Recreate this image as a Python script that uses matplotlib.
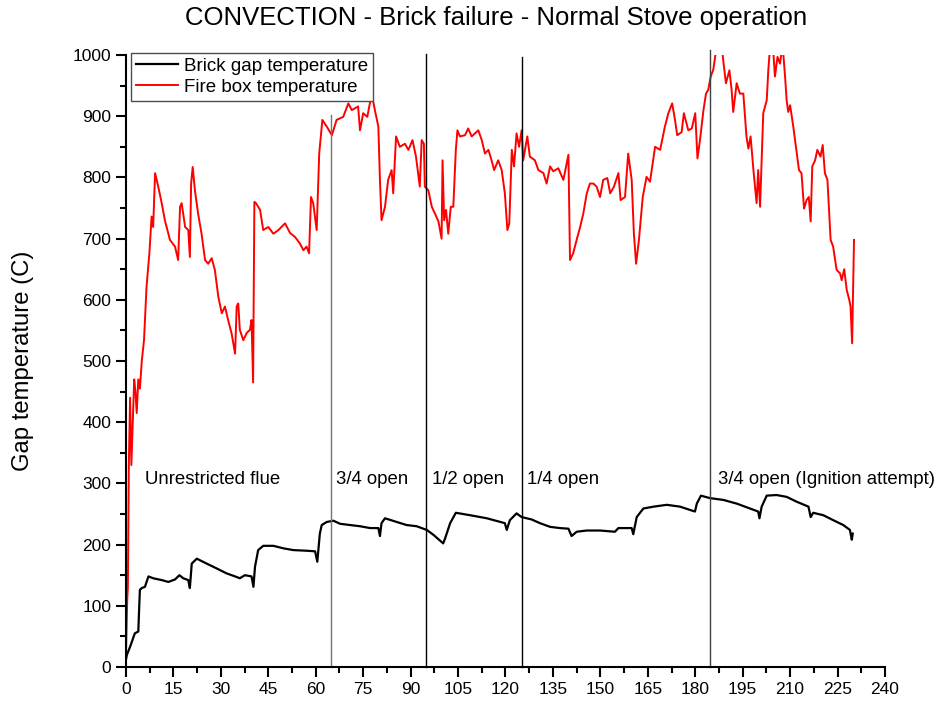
import matplotlib.pyplot as plt
from matplotlib.ticker import MultipleLocator

plt.rcParams['font.family'] = ['Liberation Sans', 'DejaVu Sans']

# fire box temperature (time in min, temp in C)
fire_t = [0.0, 0.4, 0.6, 0.9, 1.3, 1.7, 2.1, 2.6, 3.0, 3.4, 3.9, 4.4, 5.0, 5.7, 6.5, 7.4,
          8.1, 8.6, 9.2, 10.2, 11.3, 12.3, 13.9, 15.5, 16.5, 17.1, 17.6, 18.7, 19.7, 20.2,
          20.6, 21.1, 21.8, 22.8, 23.9, 25.0, 26.0, 27.1, 28.1, 29.2, 30.3, 31.3, 32.3,
          33.4, 34.5, 35.0, 35.5, 36.0, 37.1, 38.2, 39.2, 39.7, 40.2, 40.6, 41.1, 42.4,
          43.4, 45.0, 46.6, 48.2, 50.3, 51.9, 53.4, 55.0, 56.1, 57.1, 57.9, 58.5, 59.2,
          60.3, 61.1, 62.1, 63.5, 65.1, 66.6, 68.7, 70.3, 71.4, 73.4, 74.0, 75.0, 76.3,
          77.7, 78.7, 79.8, 80.3, 80.8, 81.9, 82.9, 84.0, 84.5, 85.4, 86.6, 88.2, 89.3,
          90.6, 91.7, 92.9, 93.5, 94.2, 94.5, 95.6, 96.7, 97.7, 98.8, 99.8, 100.1, 100.6,
          101.2, 101.9, 102.7, 103.5, 104.3, 104.8, 105.6, 107.2, 108.2, 109.3, 111.4,
          112.5, 113.5, 114.6, 115.6, 116.4, 117.7, 118.8, 119.8, 120.6, 121.2, 122.0,
          122.7, 123.5, 124.3, 125.1, 125.6, 126.9, 127.7, 129.3, 130.4, 132.0, 133.0,
          134.1, 135.1, 136.7, 138.3, 139.9, 140.4, 141.4, 142.5, 143.6, 144.6, 145.7,
          146.7, 147.8, 148.8, 149.9, 150.9, 152.2, 153.1, 154.3, 155.7, 156.4, 157.8,
          158.8, 159.9, 160.6, 161.3, 162.2, 163.4, 164.6, 165.7, 167.3, 168.9, 170.4,
          171.5, 172.7, 173.6, 174.3, 175.7, 176.4, 177.8, 178.9, 180.0, 180.7, 181.5,
          182.6, 183.4, 184.1, 184.9, 185.7, 186.6, 188.4, 188.9, 189.7, 190.8, 191.5,
          192.0, 193.1, 194.1, 195.2, 196.2, 196.8, 197.5, 198.4, 199.4, 199.9, 200.5,
          201.5, 202.6, 203.1, 203.6, 204.5, 205.2, 206.0, 206.8, 207.4, 207.8, 208.4,
          208.9, 209.4, 210.0, 211.0, 212.1, 212.8, 213.6, 214.4, 215.2, 215.9, 216.5,
          217.0, 217.9, 218.6, 219.6, 220.3, 221.0, 221.8, 222.8, 223.6, 224.7, 225.8,
          226.3, 227.1, 227.9, 228.7, 229.1, 229.6, 230.2]
fire_v = [20, 110, 130, 330, 440, 330, 390, 470, 450, 415, 470, 455, 500, 534, 621, 676,
          736, 719, 807, 785, 758, 730, 698, 687, 665, 752, 758, 719, 714, 670,
          790, 817, 779, 741, 708, 665, 659, 668, 649, 605, 578, 589, 567,
          545, 512, 589, 594, 551, 534, 546, 551, 567, 465, 760, 758, 747,
          714, 719, 708, 714, 725, 709, 703, 692, 681, 687, 676, 768, 758,
          714, 839, 894, 883, 869, 894, 899, 921, 910, 916, 877, 905, 899,
          937, 910, 883, 796, 730, 752, 796, 812, 774, 867, 850, 855, 845,
          861, 834, 785, 861, 855, 785, 779, 752, 741, 728, 700, 828, 730,
          747, 708, 752, 752, 845, 877, 867, 869, 880, 867, 877,
          861, 839, 845, 828, 812, 828, 812, 774, 714, 725, 845,
          818, 872, 850, 877, 828, 867, 834, 828, 812, 807, 790,
          818, 810, 815, 796, 837, 665, 676, 698, 719, 741, 774,
          790, 790, 785, 768, 796, 799, 774, 785, 807, 763, 768,
          839, 796, 708, 659, 698, 768, 801, 793, 850, 845, 883,
          905, 921, 894, 869, 874, 905, 877, 880, 905, 831, 861,
          910, 937, 943, 965, 976, 1008, 1012, 989, 954, 975, 943,
          907, 954, 937, 937, 867, 847, 867, 812, 758, 812, 752,
          905, 926, 975, 1010, 1020, 965, 997, 986, 1010, 1005, 965,
          926, 907, 918, 883, 839, 812, 807, 749, 763, 768, 728,
          818, 828, 845, 834, 853, 807, 796, 698, 687, 649, 643,
          632, 650, 616, 600, 589, 529, 698]

# brick gap temperature
gap_t = [0.0, 0.3, 1.3, 2.8, 3.9, 4.2, 4.4, 5.0, 6.0, 7.1, 8.6, 11.3, 13.4, 15.5, 16.9,
         18.1, 19.7, 20.2, 20.8, 22.4, 25.5, 28.7, 31.8, 34.5, 36.0, 37.6, 39.7, 40.3,
         40.8, 41.8, 43.4, 46.6, 49.7, 52.9, 57.1, 59.8, 60.5, 61.3, 61.9, 63.5, 65.6,
         67.7, 70.8, 74.0, 77.2, 79.8, 80.3, 80.8, 81.9, 85.6, 88.7, 91.9, 95.1, 97.2,
         100.3, 100.9, 102.5, 104.3, 108.8, 114.1, 119.8, 120.4, 121.4, 123.5, 125.1,
         126.7, 128.3, 130.9, 134.1, 137.2, 139.9, 140.9, 142.5, 145.7, 149.9, 154.6,
         155.7, 159.9, 160.4, 161.5, 163.6, 166.8, 171.0, 175.2, 179.9, 180.5, 181.8,
         184.6, 188.9, 193.1, 197.3, 199.9, 200.3, 201.0, 202.6, 205.7, 208.9, 212.1,
         215.8, 216.5, 217.3, 220.5, 223.6, 226.8, 228.9, 229.5, 229.8]
gap_v = [12, 20, 33, 55, 58, 100, 126, 129, 131, 148, 145, 142, 139, 143, 150,
         145, 142, 129, 169, 177, 169, 161, 153, 148, 145, 150, 148, 131,
         164, 191, 198, 198, 194, 191, 190, 189, 172, 218, 232, 237, 239,
         234, 232, 230, 227, 227, 214, 235, 243, 237, 232, 230, 224, 216,
         202, 210, 235, 252, 248, 243, 235, 224, 240, 251, 245,
         243, 241, 235, 229, 227, 226, 214, 221, 223, 223, 221,
         227, 227, 217, 245, 259, 262, 265, 262, 254, 267, 280,
         276, 273, 267, 259, 254, 243, 262, 280, 281, 278, 270,
         262, 245, 252, 248, 240, 232, 224, 208, 218]

# damper changes: position, top of marker line
marks_x = [64.8, 94.9, 125.2, 184.7]
marks_top = [902, 1002, 997, 1009]
marks_col = ['0.45', 'black', 'black', '0.25']

labels = ['Unrestricted flue', '3/4 open', '1/2 open', '1/4 open', '3/4 open (Ignition attempt)']
labels_x = [6.0, 66.4, 96.8, 126.8, 187.2]

fig = plt.figure(figsize=(9.38, 7.11), dpi=100)
ax = fig.add_axes([0.1343, 0.0619, 0.8092, 0.8607])

ax.plot(gap_t, gap_v, color='black', lw=1.6, label='Brick gap temperature')
ax.plot(fire_t, fire_v, color='red', lw=1.4, label='Fire box temperature')

for x, top, c in zip(marks_x, marks_top, marks_col):
    ax.plot([x, x], [0, top], color=c, lw=1.0, clip_on=False)

for x, s in zip(labels_x, labels):
    ax.text(x, 306, s, fontsize=13.4, va='center', ha='left')

ax.set_xlim(0, 240)
ax.set_ylim(0, 1000)
ax.xaxis.set_major_locator(MultipleLocator(15))
ax.xaxis.set_minor_locator(MultipleLocator(7.5))
ax.yaxis.set_major_locator(MultipleLocator(100))
ax.yaxis.set_minor_locator(MultipleLocator(50))
ax.tick_params(which='major', direction='out', length=7, width=1.5, labelsize=12.5)
ax.tick_params(which='minor', direction='out', length=4, width=1.5)

for side in ['top', 'right']:
    ax.spines[side].set_visible(False)
for side in ['left', 'bottom']:
    ax.spines[side].set_linewidth(1.5)

ax.set_ylabel('Gap temperature (C)', fontsize=17.2)
ax.yaxis.set_label_coords(-0.121, 0.5)
fig.text(0.529, 0.975, 'CONVECTION - Brick failure - Normal Stove operation',
         fontsize=18.5, ha='center', va='center')

leg = ax.legend(loc='upper left', bbox_to_anchor=(0.007, 1.003), fontsize=13.5,
                fancybox=False, framealpha=1, edgecolor='0.3', borderpad=0.25,
                handlelength=2.25, handletextpad=0.3, labelspacing=0.2, borderaxespad=0.0)
leg.get_frame().set_linewidth(1.0)

fig.savefig('out.png', dpi=100)
